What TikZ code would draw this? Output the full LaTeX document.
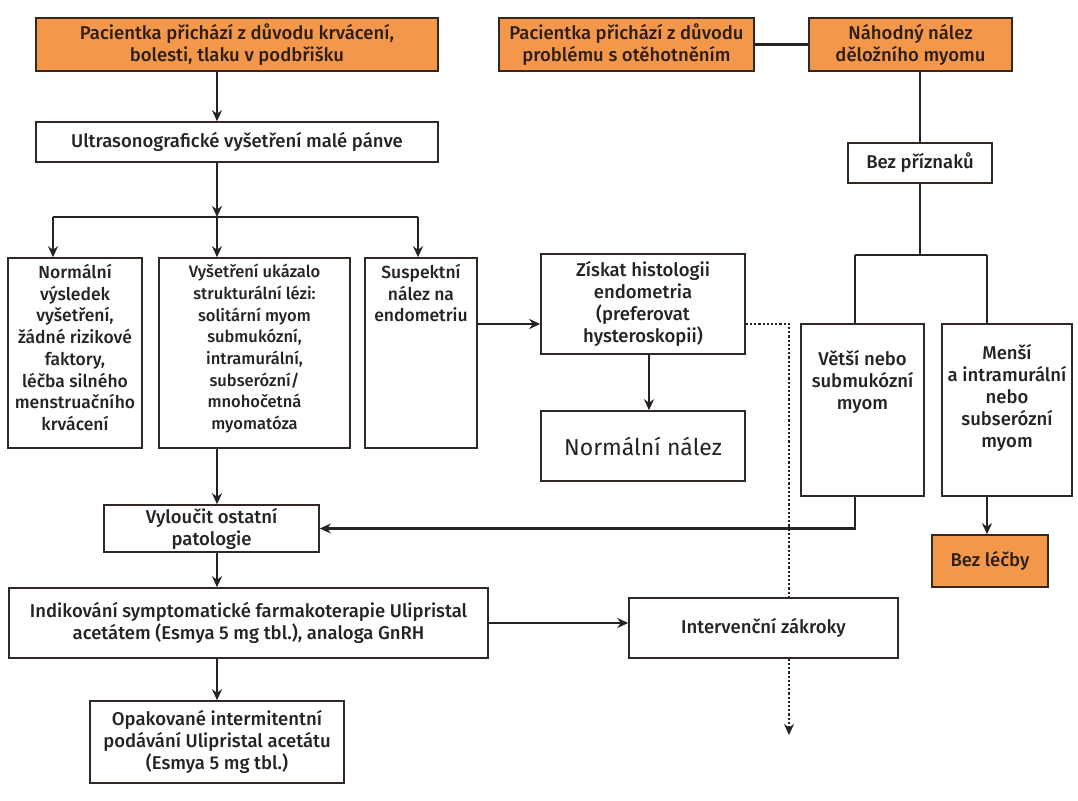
\documentclass[tikz,border=0pt]{standalone}
\usepackage{fontspec}
\setmainfont{Fira Sans}[UprightFont={* Medium}]
\newfontfamily\regfont{Fira Sans}
\usetikzlibrary{arrows.meta}
\definecolor{orng}{RGB}{243,152,74}
\definecolor{ink}{RGB}{38,34,34}
\definecolor{edge}{RGB}{50,40,35}
\begin{document}
\begin{tikzpicture}[x=1pt,y=-1pt,
  font=\fontsize{18.5}{22}\selectfont,
  box/.style={draw=edge, line width=1.6pt, fill=white, inner sep=0pt, text=ink, align=center},
  obox/.style={box, fill=orng, text={rgb,255:red,45;green,30;blue,20}},
  txt/.style={align=center, text=ink, inner sep=0pt},
  ln/.style={line width=2.8pt, draw=ink},
  arr/.style={ln, -{Stealth[length=11pt,width=10pt]}},
  dots/.style={line width=2.2pt, draw=ink, dotted, -{Stealth[length=11pt,width=10pt]}}]
\useasboundingbox (0,0) rectangle (1078,800);
% coordinates
\coordinate (colL) at (217,0);
\coordinate (bar) at (217,217);
\coordinate (barL) at (53,217);
\coordinate (barR) at (418,217);
\coordinate (zrow) at (0,324);
\coordinate (zcol) at (649,0);
\coordinate (dotEnd) at (789,735);
\coordinate (bar2) at (920,255);
\coordinate (b2L) at (855,255);
\coordinate (b2R) at (987,255);
% boxes
\node[obox, minimum width=402pt, minimum height=53pt] (A) at (237,44.5) {Pacientka přichází z důvodu krvácení,\\bolesti, tlaku v podbřišku};
\node[obox, minimum width=255pt, minimum height=53pt] (B) at (626.5,44.5) {Pacientka přichází z důvodu\\problému s otěhotněním};
\node[obox, minimum width=203pt, minimum height=53pt] (C) at (910.5,44.5) {Náhodný nález\\děložního myomu};
\node[box, minimum width=402pt, minimum height=40pt] (U) at (237,142) {Ultrasonografické vyšetření malé pánve};
\node[box, minimum width=134pt, minimum height=190pt] (N1) at (75,353) {};
\node[txt, anchor=north, font=\fontsize{17.5}{21.7}\selectfont] (N1t) at (75,264) {Normální\\výsledek\\vyšetření,\\žádné rizikové\\faktory,\\léčba silného\\menstruačního\\krvácení};
\node[box, minimum width=191pt, minimum height=190pt] (N2) at (254.5,353) {};
\node[txt, anchor=north, font=\fontsize{16.5}{21.7}\selectfont] (N2t) at (254.5,264) {Vyšetření ukázalo\\strukturální lézi:\\solitární myom\\submukózní,\\intramurální,\\subserózní/\\mnohočetná\\myomatóza};
\node[box, minimum width=112pt, minimum height=190pt] (N3) at (421,353) {};
\node[txt, anchor=north, font=\fontsize{17.5}{21.7}\selectfont] (N3t) at (421,264) {Suspektní\\nález na\\endometriu};
\node[box, minimum width=204pt, minimum height=100pt] (Z) at (643,304) {Získat histologii\\endometria\\(preferovat\\hysteroskopii)};
\node[box, minimum width=204pt, minimum height=70pt, font=\regfont\fontsize{23}{28}\selectfont] (NN) at (643,446) {Normální nález};
\node[box, minimum width=144pt, minimum height=40pt] (Bez) at (920,163) {Bez příznaků};
\node[box, minimum width=123pt, minimum height=172pt] (Vet) at (862.5,410) {};
\node[txt, anchor=north] (Vett) at (862.5,350) {Větší nebo\\submukózní\\myom};
\node[box, minimum width=130pt, minimum height=172pt] (Men) at (1007,410) {};
\node[txt, anchor=north] (Ment) at (1007,344) {Menší\\a intramurální\\nebo\\subserózní\\myom};
\node[obox, minimum width=116pt, minimum height=52pt] (BL) at (990,561) {Bez léčby};
\node[box, minimum width=215pt, minimum height=47pt] (Vyl) at (211.5,528.5) {Vyloučit ostatní\\patologie};
\node[box, minimum width=479pt, minimum height=70pt] (Ind) at (248.5,623) {Indikování symptomatické farmakoterapie Ulipristal\\acetátem (Esmya 5 mg tbl.), analoga GnRH};
\node[box, minimum width=254pt, minimum height=82pt] (Op) at (217,742) {Opakované intermitentní\\podávání Ulipristal acetátu\\(Esmya 5 mg tbl.)};
% connectors
\draw[arr] (A.south -| colL) -- (U.north -| colL);
\draw[arr] (U.south -| colL) -- (bar);
\draw[ln] (barL) -- (barR);
\draw[arr] (barL) -- (barL |- N1.north);
\draw[arr] (bar) -- (bar |- N2.north);
\draw[arr] (barR) -- (barR |- N3.north);
\draw[arr] (N3.east |- zrow) -- (Z.west |- zrow);
\draw[arr] (Z.south -| zcol) -- (NN.north -| zcol);
\draw[ln] (B.east) -- (C.west);
\draw[ln] (C.south -| Bez.north) -- (Bez.north);
\draw[ln] (Bez.south) -- (bar2);
\draw[ln] (b2L) -- (b2R);
\draw[ln] (b2L) -- (b2L |- Vet.north);
\draw[ln] (b2R) -- (b2R |- Men.north);
\draw[arr] (Men.south -| b2R) -- (BL.north -| b2R);
\draw[arr] (Vet.south -| b2L) |- (Vyl.east);
\draw[dots] (Z.east |- zrow) -| (dotEnd);
\draw[arr] (N2.south -| colL) -- (Vyl.north -| colL);
\draw[arr] (Vyl.south -| colL) -- (Ind.north -| colL);
\draw[arr] (Ind.south -| colL) -- (Op.north -| colL);
\node[box, minimum width=269pt, minimum height=60pt] (Int) at (763.5,628) {Intervenční zákroky};
\draw[arr] (Ind.east) -- (Int.west |- Ind.east);
\end{tikzpicture}
\end{document}
